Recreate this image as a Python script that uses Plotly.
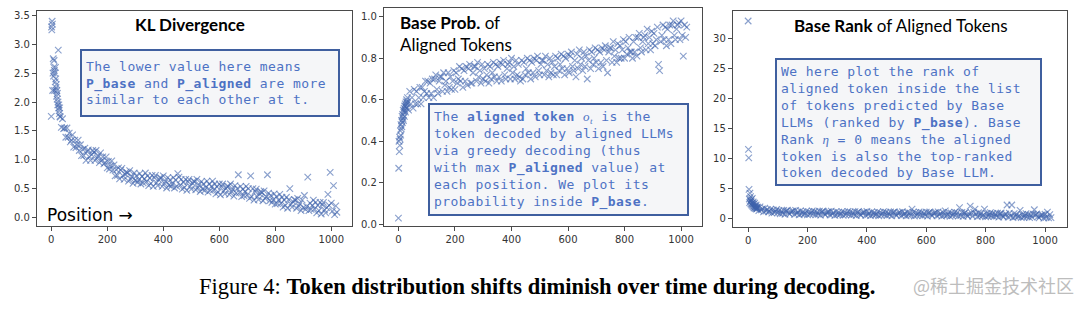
import plotly.graph_objects as go

W, H = 1080, 309

# ---------------- data ----------------
positions = list(range(0, 32)) + list(range(32, 1024, 4))

kl_divergence = [
    1.75, 3.3, 3.25, 3.4, 3.35, 2.2, 2.5, 2.75, 2.45, 2.6, 2.72, 2.55, 2.2, 2.5, 2.35, 2.6,
    2.4, 2.25, 2.3, 2.1, 2.2, 2.05, 2.15, 1.95, 2.0, 2.9, 1.9, 1.95, 1.85, 1.8, 1.9, 1.75,
    1.74, 1.56, 1.71, 1.54, 1.55, 1.39, 1.55, 1.39, 1.46, 1.31,
    1.34, 1.43, 1.22, 1.34, 1.21, 1.26, 1.34, 1.16, 1.26, 1.07,
    1.18, 1.07, 1.2, 0.99, 1.14, 1.17, 1.05, 0.99, 1.09, 1.16,
    1.13, 0.99, 1.16, 1.03, 1.07, 0.95, 1.12, 0.99, 1.05, 0.93,
    0.95, 1.05, 0.86, 0.97, 0.84, 0.89, 0.98, 0.82, 0.91, 0.72,
    0.83, 0.73, 0.86, 0.67, 0.82, 0.85, 0.72, 0.66, 0.75, 0.79,
    0.77, 0.63, 0.81, 0.67, 0.71, 0.59, 0.77, 0.64, 0.72, 0.61,
    0.65, 0.76, 0.58, 0.71, 0.6, 0.67, 0.77, 0.62, 0.72, 0.55,
    0.68, 0.59, 0.73, 0.54, 0.69, 0.73, 0.6, 0.55, 0.65, 0.69,
    0.68, 0.54, 0.72, 0.59, 0.63, 0.51, 0.69, 0.56, 0.65, 0.54,
    0.58, 0.69, 0.51, 0.65, 0.54, 0.76, 0.7, 0.56, 0.66, 0.49,
    0.61, 0.52, 0.66, 0.47, 0.62, 0.66, 0.54, 0.49, 0.59, 0.63,
    0.62, 0.48, 0.66, 0.52, 0.57, 0.45, 0.62, 0.49, 0.58, 0.47,
    0.52, 0.63, 0.44, 0.58, 0.47, 0.54, 0.63, 0.48, 0.58, 0.41,
    0.53, 0.44, 0.58, 0.39, 0.54, 0.58, 0.46, 0.41, 0.5, 0.54,
    0.54, 0.4, 0.58, 0.45, 0.49, 0.37, 0.55, 0.42, 0.5, 0.74,
    0.43, 0.54, 0.36, 0.49, 0.38, 0.45, 0.54, 0.39, 0.5, 0.33,
    0.72, 0.36, 0.5, 0.3, 0.45, 0.49, 0.36, 0.31, 0.41, 0.45,
    0.43, 0.29, 0.46, 0.33, 0.36, 0.74, 0.42, 0.29, 0.38, 0.26,
    0.3, 0.41, 0.23, 0.36, 0.24, 0.3, 0.4, 0.25, 0.35, 0.18,
    0.3, 0.21, 0.35, 0.16, 0.31, 0.5, 0.23, 0.18, 0.27, 0.31,
    0.3, 0.16, 0.33, 0.2, 0.24, 0.12, 0.3, 0.17, 0.38, 0.14,
    0.19, 0.7, 0.12, 0.25, 0.14, 0.21, 0.3, 0.15, 0.26, 0.08,
    0.21, 0.12, 0.26, 0.06, 0.22, 0.26, 0.13, 0.08, 0.17, 0.4,
    0.21, 0.78, 0.25, 0.11, 0.55, 0.05, 0.2, 0.09,
]

base_prob = [
    0.03, 0.27, 0.4, 0.35, 0.42, 0.38, 0.41, 0.45, 0.43, 0.48, 0.46, 0.5, 0.47, 0.52, 0.49, 0.53,
    0.51, 0.55, 0.5, 0.54, 0.56, 0.52, 0.57, 0.55, 0.58, 0.54, 0.57, 0.59, 0.56, 0.6, 0.58, 0.59,
    0.61, 0.55, 0.64, 0.58, 0.61, 0.56, 0.65, 0.58, 0.64, 0.58,
    0.61, 0.66, 0.58, 0.66, 0.61, 0.64, 0.69, 0.63, 0.69, 0.61,
    0.68, 0.63, 0.7, 0.61, 0.7, 0.72, 0.65, 0.63, 0.69, 0.71,
    0.71, 0.64, 0.73, 0.67, 0.69, 0.64, 0.73, 0.66, 0.71, 0.65,
    0.69, 0.74, 0.65, 0.73, 0.68, 0.7, 0.76, 0.69, 0.75, 0.66,
    0.74, 0.69, 0.76, 0.67, 0.75, 0.77, 0.68, 0.68, 0.73, 0.76,
    0.76, 0.69, 0.78, 0.71, 0.74, 0.68, 0.77, 0.7, 0.75, 0.69,
    0.72, 0.77, 0.68, 0.76, 0.7, 0.73, 0.78, 0.71, 0.77, 0.69,
    0.76, 0.71, 0.78, 0.69, 0.77, 0.79, 0.72, 0.7, 0.75, 0.77,
    0.78, 0.7, 0.8, 0.73, 0.76, 0.7, 0.79, 0.72, 0.77, 0.71,
    0.69, 0.79, 0.7, 0.78, 0.72, 0.75, 0.8, 0.73, 0.79, 0.7,
    0.78, 0.73, 0.8, 0.71, 0.79, 0.81, 0.74, 0.72, 0.77, 0.79,
    0.79, 0.72, 0.81, 0.74, 0.77, 0.71, 0.8, 0.73, 0.78, 0.72,
    0.76, 0.81, 0.72, 0.8, 0.74, 0.77, 0.82, 0.75, 0.81, 0.72,
    0.8, 0.75, 0.82, 0.73, 0.81, 0.83, 0.76, 0.74, 0.79, 0.71,
    0.82, 0.75, 0.84, 0.77, 0.8, 0.74, 0.83, 0.76, 0.81, 0.7,
    0.79, 0.84, 0.75, 0.83, 0.77, 0.8, 0.85, 0.78, 0.84, 0.75,
    0.83, 0.78, 0.85, 0.76, 0.84, 0.86, 0.79, 0.73, 0.83, 0.85,
    0.85, 0.78, 0.88, 0.81, 0.84, 0.78, 0.87, 0.8, 0.86, 0.8,
    0.84, 0.89, 0.8, 0.88, 0.82, 0.85, 0.9, 0.83, 0.83, 0.8,
    0.88, 0.83, 0.9, 0.81, 0.9, 0.92, 0.85, 0.83, 0.88, 0.9,
    0.91, 0.84, 0.94, 0.87, 0.9, 0.84, 0.93, 0.87, 0.92, 0.86,
    0.89, 0.95, 0.77, 0.74, 0.88, 0.91, 0.96, 0.89, 0.95, 0.86,
    0.94, 0.89, 0.96, 0.87, 0.96, 0.98, 0.91, 0.89, 0.94, 0.96,
    0.97, 0.89, 0.98, 0.91, 0.81, 0.96, 0.9, 0.95,
]

base_rank = [
    33.0, 11.5, 10.1, 4.8, 3.2, 2.6, 4.2, 2.9, 3.6, 2.4, 2.8, 3.1, 2.2, 2.5, 3.3, 2.0,
    2.4, 2.7, 1.9, 2.3, 1.7, 2.1, 2.5, 1.8, 2.0, 1.6, 1.9, 2.2, 1.5, 1.8, 1.7, 1.6,
    1.85, 1.27, 1.9, 1.37, 1.55, 1.05, 1.68, 1.16, 1.47, 1.05,
    1.15, 1.52, 0.85, 1.38, 0.91, 1.13, 1.45, 0.93, 1.28, 0.73,
    1.18, 0.82, 1.31, 0.65, 1.19, 1.33, 0.88, 0.67, 1.02, 1.16,
    1.2, 0.64, 1.29, 0.79, 1.03, 0.57, 1.21, 0.7, 1.05, 0.65,
    0.79, 1.18, 0.53, 1.08, 0.62, 0.87, 1.21, 0.71, 1.11, 0.56,
    1.01, 0.65, 1.15, 0.5, 1.05, 1.19, 0.74, 0.54, 0.88, 1.03,
    1.07, 0.52, 1.17, 0.66, 0.91, 0.46, 1.1, 0.6, 0.95, 0.55,
    0.7, 1.1, 0.45, 1.0, 0.55, 0.8, 1.14, 0.64, 1.04, 0.49,
    0.94, 0.59, 1.09, 0.44, 0.98, 1.13, 0.68, 0.48, 0.83, 0.97,
    1.01, 0.46, 1.11, 0.61, 0.86, 0.41, 1.05, 0.55, 0.9, 0.5,
    0.65, 1.05, 0.4, 0.95, 0.5, 0.75, 1.09, 0.59, 0.99, 0.44,
    0.88, 0.53, 1.03, 0.38, 0.93, 1.07, 0.62, 0.42, 0.77, 0.92,
    0.97, 0.42, 1.07, 0.57, 0.82, 0.37, 1.01, 0.51, 0.86, 0.46,
    1.5, 1.01, 0.36, 0.91, 0.46, 0.71, 1.05, 0.55, 0.95, 0.4,
    0.85, 0.5, 1.0, 0.35, 0.9, 1.04, 0.59, 0.39, 0.74, 0.89,
    0.94, 0.39, 1.04, 0.54, 0.79, 0.33, 0.97, 0.48, 1.2, 0.42,
    0.57, 0.97, 0.31, 0.86, 0.41, 0.66, 1.0, 0.5, 0.9, 0.35,
    1.75, 0.44, 0.94, 0.29, 0.83, 0.98, 0.52, 0.32, 0.67, 2.0,
    0.87, 0.32, 0.97, 1.5, 0.71, 0.26, 0.9, 0.4, 0.75, 0.35,
    0.49, 1.5, 0.23, 0.78, 0.32, 0.57, 0.91, 0.4, 0.8, 0.25,
    0.69, 0.33, 0.82, 0.18, 0.72, 0.86, 0.4, 0.19, 0.54, 0.69,
    2.2, 0.17, 0.82, 0.32, 2.2, 0.11, 0.75, 0.25, 0.59, 0.2,
    0.33, 1.3, 0.07, 0.61, 0.15, 0.4, 0.74, 0.24, 0.63, 0.08,
    0.52, 0.16, 0.66, 1.4, 0.55, 0.69, 0.24, 0.04, 0.37, 0.52,
    0.56, 0.01, 0.65, 0.15, 1.0, 0.05, 0.58, 0.08,
]

x_ticks = [0, 200, 400, 600, 800, 1000]
kl_ticks = [0.0, 0.5, 1.0, 1.5, 2.0, 2.5, 3.0, 3.5]
prob_ticks = [0.0, 0.2, 0.4, 0.6, 0.8, 1.0]
rank_ticks = [0, 5, 10, 15, 20, 25, 30]

# ---------------- figure ----------------
def px_x(p):
    return p / W

def px_y(p):
    return 1 - p / H

panels = [
    # (series, yticks, ytickformat, yrange, x-left px, x-right px, top px, bottom px)
    (kl_divergence, kl_ticks, ".1f", [-0.153, 3.58], 37, 352, 10, 229),
    (base_prob, prob_ticks, ".1f", [-0.0095, 1.041], 384, 702, 7.3, 229),
    (base_rank, rank_ticks, "d", [-1.53, 34.7], 733, 1067, 10, 230),
]

fig = go.Figure()
mcol = "rgba(62,98,172,0.6)"
marker = dict(symbol="x-thin", size=6.5, color=mcol, line=dict(width=1.15, color=mcol))
tickfont = dict(family="DejaVu Sans", size=10, color="#333333")

for i, (series, yt, yfmt, yr, xl, xr, yt_px, yb_px) in enumerate(panels):
    n = "" if i == 0 else str(i + 1)
    fig.add_trace(go.Scatter(x=positions, y=series, mode="markers", marker=marker,
                             xaxis="x" + n, yaxis="y" + n, showlegend=False,
                             hoverinfo="skip"))
    axis_common = dict(showline=True, mirror=True, linecolor="#4a4a4a", linewidth=1.3,
                       ticks="outside", ticklen=4, tickwidth=1, tickcolor="#4a4a4a",
                       showgrid=False, zeroline=False, tickfont=tickfont)
    fig.layout["xaxis" + n] = dict(domain=[px_x(xl), px_x(xr)], range=[-51, 1074],
                                   tickvals=x_ticks, anchor="y" + n, **axis_common)
    fig.layout["yaxis" + n] = dict(domain=[px_y(yb_px), px_y(yt_px)], range=yr,
                                   tickvals=yt, tickformat=yfmt, anchor="x" + n,
                                   **axis_common)


def spaced(lines):
    return "<br>".join("<span style='letter-spacing:0.45px'>" + ln + "</span>" for ln in lines)


title_font = dict(family="Lato", size=17, color="black")
box_font = dict(family="DejaVu Sans Mono", size=13, color="#4d72c4")
box_style = dict(bgcolor="rgba(244,245,247,0.92)", bordercolor="#3f5f9f",
                 borderwidth=2, borderpad=4, align="left", xanchor="left",
                 yanchor="top", xref="paper", yref="paper", showarrow=False)
serif = "<i style='font-family:Liberation Serif'>"

annotations = [
    dict(text="<b>KL Divergence</b>", x=px_x(190), y=px_y(24), xanchor="center",
         yanchor="middle", font=title_font),
    dict(text="<b>Base Prob.</b> of<br>Aligned Tokens", x=px_x(398), y=px_y(33.5),
         xanchor="left", yanchor="middle", align="left", font=title_font),
    dict(text="<b>Base Rank</b> of Aligned Tokens", x=px_x(901), y=px_y(25),
         xanchor="center", yanchor="middle", font=title_font),
    dict(text="Position →", x=px_x(45), y=px_y(218), xanchor="left", yanchor="middle",
         font=dict(family="DejaVu Sans", size=17, color="black")),
    dict(text=spaced(["The lower value here means",
                      "<b>P_base</b> and <b>P_aligned</b> are more",
                      "similar to each other at t."]),
         x=px_x(80), y=px_y(49), width=248, height=56, valign="middle",
         font=box_font, **box_style),
    dict(text=spaced(["The <b>aligned token</b> " + serif + "o<sub>t</sub></i> is the",
                      "token decoded by aligned LLMs",
                      "via greedy decoding (thus",
                      "with max <b>P_aligned</b> value) at",
                      "each position. We plot its",
                      "probability inside <b>P_base</b>."]),
         x=px_x(428), y=px_y(104), width=249, font=box_font, **box_style),
    dict(text=spaced(["We here plot the rank of",
                      "aligned token inside the list",
                      "of tokens predicted by Base",
                      "LLMs (ranked by <b>P_base</b>). Base",
                      "Rank " + serif + "η</i> = 0 means the aligned",
                      "token is also the top-ranked",
                      "token decoded by Base LLM."]),
         x=px_x(775), y=px_y(58), width=255, font=box_font, **box_style),
    dict(text="Figure 4: <b>Token distribution shifts diminish over time during decoding.</b>",
         x=px_x(537), y=px_y(290), xanchor="center", yanchor="middle",
         font=dict(family="Liberation Serif", size=22.5, color="black")),
    dict(text="@稀土掘金技术社区", x=px_x(993), y=px_y(289), xanchor="center",
         yanchor="middle", font=dict(family="Noto Sans CJK SC", size=18, color="#bdbdbd")),
]
for a in annotations:
    a.setdefault("xref", "paper")
    a.setdefault("yref", "paper")
    a.setdefault("showarrow", False)
fig.update_layout(annotations=annotations, width=W, height=H,
                  margin=dict(l=0, r=0, t=0, b=0), paper_bgcolor="white",
                  plot_bgcolor="white")

fig.write_html("out.html")
